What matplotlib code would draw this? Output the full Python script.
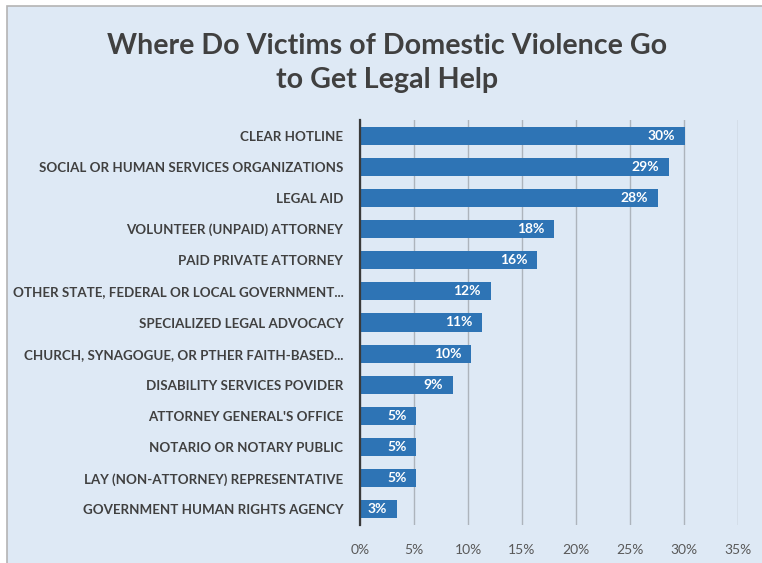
import matplotlib
matplotlib.use("Agg")
import matplotlib.pyplot as plt
from matplotlib.patches import Rectangle

# Survey responses, top to bottom
categories = [
    "CLEAR HOTLINE",
    "SOCIAL OR HUMAN SERVICES ORGANIZATIONS",
    "LEGAL AID",
    "VOLUNTEER (UNPAID) ATTORNEY",
    "PAID PRIVATE ATTORNEY",
    "OTHER STATE, FEDERAL OR LOCAL GOVERNMENT...",
    "SPECIALIZED LEGAL ADVOCACY",
    "CHURCH, SYNAGOGUE, OR PTHER FAITH-BASED...",
    "DISABILITY SERVICES POVIDER",
    "ATTORNEY GENERAL'S OFFICE",
    "NOTARIO OR NOTARY PUBLIC",
    "LAY (NON-ATTORNEY) REPRESENTATIVE",
    "GOVERNMENT HUMAN RIGHTS AGENCY",
]
shares = [30.1, 28.6, 27.6, 18.0, 16.4, 12.1, 11.3, 10.3, 8.6, 5.2, 5.2, 5.2, 3.4]
xticks = [0, 5, 10, 15, 20, 25, 30, 35]

BG = "#dee9f5"
BAR = "#2e74b5"
FONT = ["Lato", "DejaVu Sans"]

fig = plt.figure(figsize=(7.62, 5.63), dpi=100, facecolor="white")

# panel behind everything (runs off the right and bottom edges)
W, H = 762, 563
fig.patches.append(Rectangle((7 / W, -0.1), 1.0, 1.1 - 6 / H,
                             transform=fig.transFigure, facecolor=BG,
                             edgecolor="#b4b4b4", linewidth=1.2, zorder=-10))

ax = fig.add_axes([360 / W, 1 - 525 / H, (738 - 360) / W, (525 - 120) / H])
ax.set_facecolor("none")

y = list(range(len(categories)))
ax.barh(y, shares, height=0.58, color=BAR, zorder=3)
for yi, v in zip(y, shares):
    ax.text(v - 0.9, yi, f"{v:.0f}%", ha="right", va="center",
            color="white", fontsize=10, fontweight="bold",
            family=FONT, zorder=4)

ax.set_ylim(len(categories) - 0.5, -0.5)
ax.set_xlim(0, 35)
ax.set_xticks(xticks)
ax.set_xticklabels([f"{t}%" for t in xticks], family=FONT,
                   fontsize=10, color="#595959")
ax.set_yticks(y)
ax.set_yticklabels(categories, family=FONT, fontsize=9.6,
                   fontweight="bold", color="#404040")
ax.tick_params(axis="both", length=0)
ax.tick_params(axis="y", pad=12)
ax.tick_params(axis="x", pad=14)

ax.grid(axis="x", color="#adb4bc", linewidth=1.0, zorder=1)
for s in ["top", "right", "bottom"]:
    ax.spines[s].set_visible(False)
ax.spines["left"].set_color("#3a3a3a")
ax.spines["left"].set_linewidth(1.6)
ax.spines["left"].set_zorder(5)

fig.text(0.5 * (7 + W) / W + 0.004, 1 - 63 / H,
         "Where Do Victims of Domestic Violence Go\nto Get Legal Help",
         ha="center", va="center", family=FONT, fontsize=20.6,
         fontweight="bold", color="#404040", linespacing=1.4)

fig.savefig("out.png", dpi=100, facecolor="white")
